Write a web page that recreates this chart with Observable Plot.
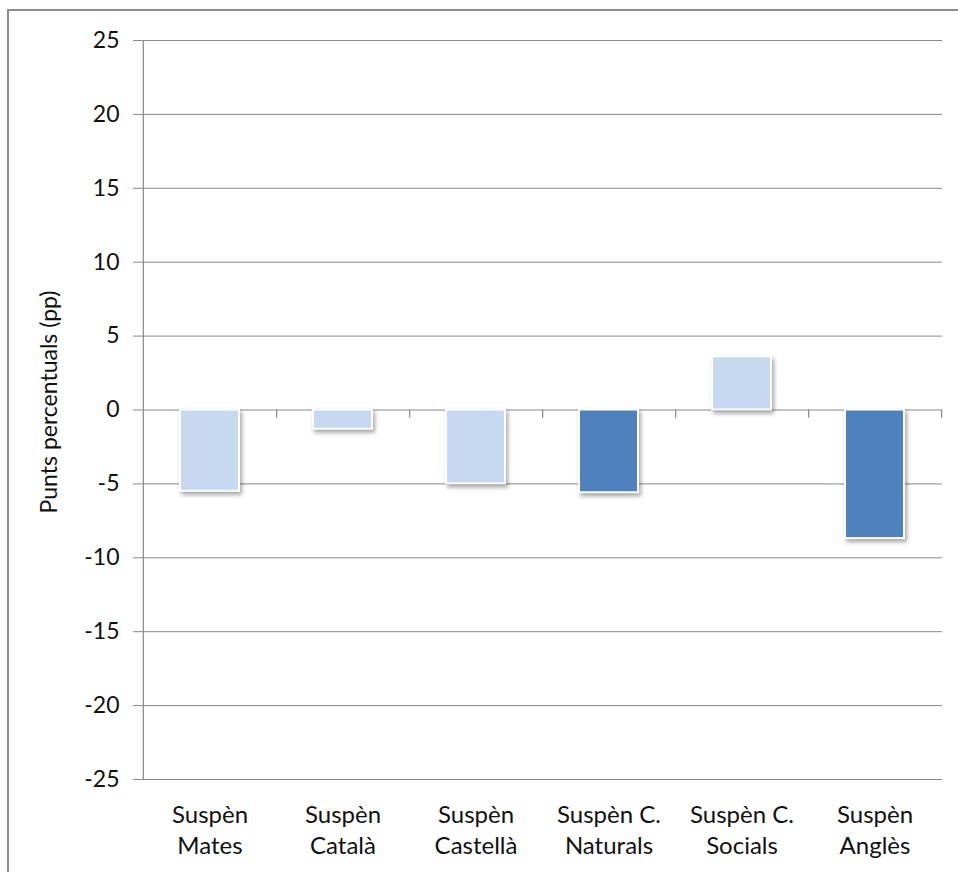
<!DOCTYPE html>
<html><head><meta charset="utf-8">
<script src="https://cdn.jsdelivr.net/npm/d3@7"></script>
<script src="https://cdn.jsdelivr.net/npm/@observablehq/plot@0.6"></script>
<style>
body{margin:0;background:#fff;}
#chart{position:absolute;left:0;top:0;}
#frame{position:absolute;left:7px;top:9px;width:1000px;height:1000px;border:2px solid #8c8c8c;box-sizing:border-box;pointer-events:none;}
g[aria-label="bar"] rect{filter:drop-shadow(2px 3px 2px rgba(0,0,0,0.35));}
</style></head>
<body><div id="chart"></div><div id="frame"></div>
<script>
const categories = ["Suspèn Mates","Suspèn Català","Suspèn Castellà","Suspèn C. Naturals","Suspèn C. Socials","Suspèn Anglès"];
const tickLabels = ["Suspèn\nMates","Suspèn\nCatalà","Suspèn\nCastellà","Suspèn C.\nNaturals","Suspèn C.\nSocials","Suspèn\nAnglès"];
const values = [-5.5, -1.3, -5.0, -5.6, 3.6, -8.7];
const highlighted = [false, false, false, true, false, true];
const yTicks = [-25, -20, -15, -10, -5, 0, 5, 10, 15, 20, 25];
const yLabel = "Punts percentuals (pp)";

const data = categories.map((c, i) => ({cat: c, label: tickLabels[i], value: values[i], hi: highlighted[i]}));
const W = 958, H = 872, mL = 142, mR = 16, mT = 40, mB = 93;
const step = (W - mL - mR) / categories.length;
const grey = "#888888";
const font = "Lato, 'Open Sans', sans-serif";

const chart = Plot.plot({
  width: W, height: H,
  marginLeft: mL, marginRight: mR, marginTop: mT, marginBottom: mB,
  style: {fontFamily: font, color: "#000", background: "#fff"},
  x: {domain: categories, paddingInner: 0.56, paddingOuter: 0.28, axis: null},
  y: {domain: [-25, 25], axis: null},
  marks: [
    Plot.gridY(yTicks, {stroke: grey, strokeOpacity: 1, strokeWidth: 1}),
    Plot.ruleX([categories[0]], {dx: -step / 2, y1: -25, y2: 25, stroke: grey, strokeWidth: 1.2}),
    Plot.ruleX(categories, {dx: step / 2, y1: 0, y2: -0.55, stroke: grey, strokeWidth: 1.2}),
    Plot.axisY({ticks: yTicks, tickSize: 9, tickPadding: 14, fontSize: 23, label: null, stroke: grey,
      tickFormat: d => String(d), fill: "#111"}),
    Plot.barY(data, {x: "cat", y: "value", fill: d => d.hi ? "#4f81bd" : "#c6d9f1", stroke: "#ffffff", strokeWidth: 2}),
    Plot.text(data, {x: "cat", text: "label", frameAnchor: "bottom", lineAnchor: "middle", dy: 49, lineHeight: 1.28,
      fontSize: 24, fill: "#111"}),
    Plot.text([yLabel], {frameAnchor: "left", textAnchor: "middle", lineAnchor: "middle", dx: -93, dy: -8,
      rotate: -90, fontSize: 23, fill: "#111"})
  ]
});
document.getElementById("chart").appendChild(chart);
</script>
</body></html>
